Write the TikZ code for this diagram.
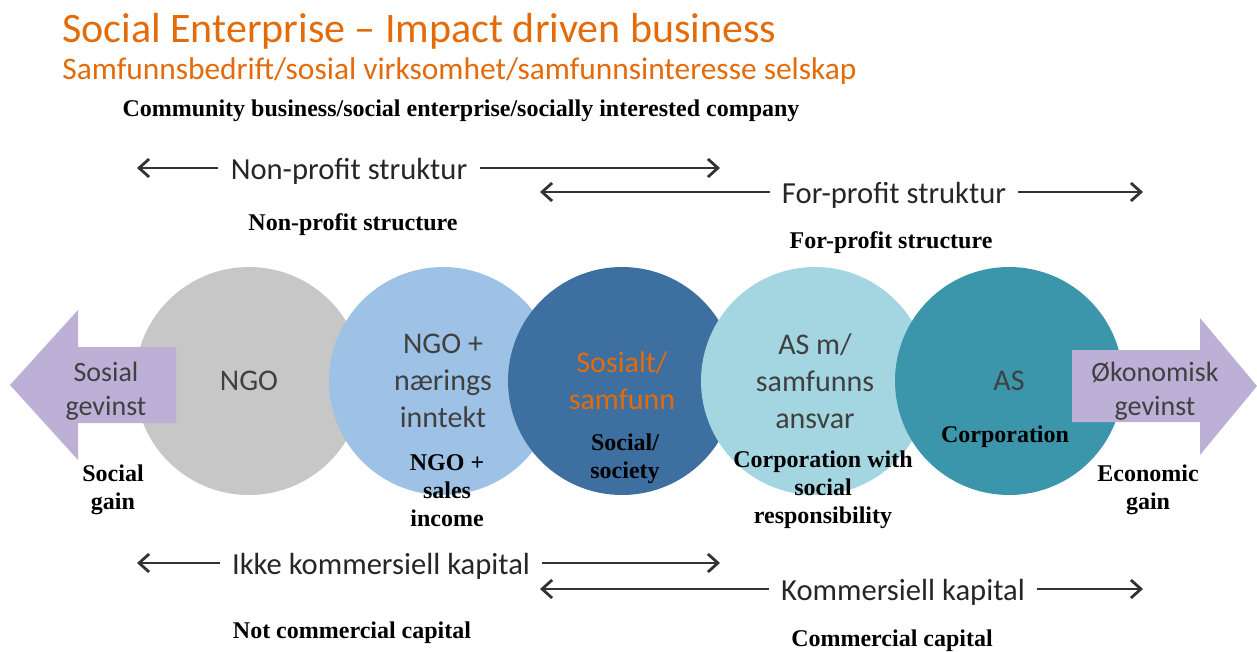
\documentclass[tikz,border=0pt]{standalone}
\usepackage{fontspec}
\setmainfont{Liberation Serif}
\newfontfamily\calibri{Carlito}
\usetikzlibrary{arrows.meta}
\definecolor{ngogray}{rgb}{0.78, 0.78, 0.78}
\definecolor{ngoblue}{rgb}{0.62, 0.76, 0.90}
\definecolor{socialblue}{rgb}{0.24, 0.44, 0.63}
\definecolor{ascyan}{rgb}{0.64, 0.84, 0.88}
\definecolor{asteal}{rgb}{0.23, 0.59, 0.67}
\definecolor{gainpurple}{rgb}{0.74, 0.69, 0.84}
\definecolor{headorange}{rgb}{0.89, 0.42, 0.04}
\definecolor{darktext}{rgb}{0.25, 0.25, 0.25}

\begin{document}
\begin{tikzpicture}[x=0.5pt,y=-0.5pt,
    norsk/.style={font=\calibri\fontsize{15}{18.5}\selectfont, text=darktext, align=center},
    bubble/.style={circle, minimum size=114pt, inner sep=0pt, norsk},
    eng/.style={font=\bfseries\fontsize{12}{14}\selectfont, align=center},
    struktur/.style={font=\calibri\fontsize{15.3}{18}\selectfont, text=black!85, inner xsep=6pt},
    flow/.style={-{Straight Barb[length=5pt,width=9pt]}, line width=1.4pt, draw=black!80}]
  \useasboundingbox (0,0) rectangle (1257,652);

  \node[anchor=base west, inner sep=0pt, text=headorange, font=\calibri\fontsize{21}{25}\selectfont] (title) at (62,43) {Social Enterprise – Impact driven business};
  \node[anchor=base west, inner sep=0pt, text=headorange, font=\calibri\fontsize{15.7}{19}\selectfont] (subtitle) at (62,80) {Samfunnsbedrift/sosial virksomhet/samfunnsinteresse selskap};
  \node[eng, anchor=base] (community) at (461,117) {Community business/social enterprise/socially interested company};

  % structure arrows
  \node[struktur] (nonprofit) at (349,171) {Non-profit struktur};
  \coordinate (np1) at (137,168);
  \coordinate (np2) at (720,168);
  \draw[flow] (nonprofit.west |- np1) -- (np1);
  \draw[flow] (nonprofit.east |- np2) -- (np2);
  \node[struktur] (forprofit) at (894,195) {For-profit struktur};
  \coordinate (fp1) at (540,192);
  \coordinate (fp2) at (1143,192);
  \draw[flow] (forprofit.west |- fp1) -- (fp1);
  \draw[flow] (forprofit.east |- fp2) -- (fp2);
  \node[eng] (npstruct) at (353,225) {Non-profit structure};
  \node[eng] (fpstruct) at (891,243) {For-profit structure};

  % the five company types
  \node[bubble, fill=ngogray] (ngo) at (249,381) {NGO};
  \node[bubble, fill=ngoblue] (ngoplus) at (443,381) {NGO +\\nærings\\inntekt};
  \node[bubble, fill=socialblue, text=headorange] (social) at (622,381) {Sosialt/\\samfunn};
  \node[bubble, fill=ascyan] (asm) at (815,381) {AS m/\\samfunns\\ansvar};
  \node[bubble, fill=asteal] (as) at (1009,381) {AS};

  % gain arrows
  \fill[gainpurple] (176,347) -- (78,347) -- (78,310) -- (10,385) -- (78,460) -- (78,423) -- (176,423) -- cycle;
  \fill[gainpurple] (1072,350) -- (1200,350) -- (1200,318) -- (1257,386) -- (1200,455) -- (1200,422) -- (1072,422) -- cycle;
  \node[norsk, font=\calibri\fontsize{14}{17}\selectfont] (sgain) at (106,391) {Sosial\\gevinst};
  \node[norsk, font=\calibri\fontsize{14}{17}\selectfont] (egain) at (1155,391) {Økonomisk\\gevinst};

  \node[eng] (socialgain) at (113,490) {Social\\gain};
  \node[eng] (ngoplusen) at (447,491) {NGO +\\sales\\income};
  \node[eng] (socialen) at (625,459) {Social/\\society};
  \node[eng] (asmen) at (823,490) {Corporation with\\social\\responsibility};
  \node[eng] (asen) at (1005,437) {Corporation};
  \node[eng] (econgain) at (1148,490) {Economic\\gain};

  % capital arrows
  \node[struktur] (ikkekap) at (381,566) {Ikke kommersiell kapital};
  \coordinate (ik1) at (137,563);
  \coordinate (ik2) at (720,563);
  \draw[flow] (ikkekap.west |- ik1) -- (ik1);
  \draw[flow] (ikkekap.east |- ik2) -- (ik2);
  \node[struktur] (kommkap) at (903,592) {Kommersiell kapital};
  \coordinate (kk1) at (540,589);
  \coordinate (kk2) at (1143,589);
  \draw[flow] (kommkap.west |- kk1) -- (kk1);
  \draw[flow] (kommkap.east |- kk2) -- (kk2);
  \node[eng] (notcap) at (352,633) {Not commercial capital};
  \node[eng] (commcap) at (892,641) {Commercial capital};
\end{tikzpicture}
\end{document}
